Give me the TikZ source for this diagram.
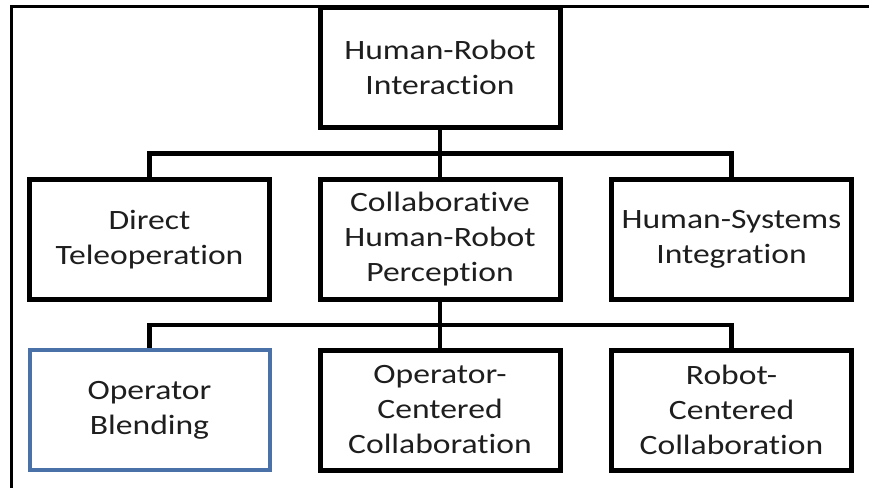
\documentclass[tikz,border=0pt]{standalone}
\usepackage{fontspec}
\setmainfont{Carlito}[FakeStretch=1.2, Ligatures={NoCommon,NoContextual}]
\usepackage{tikz}
\usetikzlibrary{calc}
\definecolor{boxblue}{RGB}{74,114,168}
\definecolor{textgray}{RGB}{30,30,30}

\begin{document}
\begin{tikzpicture}[x=1pt, y=-1pt,
		font=\fontsize{28}{35}\selectfont,
		box/.style={draw, line width=5pt, minimum width=240pt, minimum height=120pt, inner sep=0pt, align=center, text=textgray},
		blendbox/.style={box, draw=boxblue, line width=4pt},
		link/.style={line width=4.5pt},
		frame/.style={line width=3.5pt}]
			\useasboundingbox (0,0) rectangle (869,487);
			%Rahmen zeichnen
			\draw[frame] (11.5,490) |- (872,6.5);
			%Kaesten zeichnen
			\node[box] (hri) at (440,67.5) {Human-Robot\\Interaction};
			\node[box] (dt) at (149.5,239.5) {Direct\\Teleoperation};
			\node[box] (chrp) at (440,239.5) {Collaborative\\Human-Robot\\Perception};
			\node[box] (hsi) at (731.5,239.5) {Human-Systems\\Integration};
			\node[blendbox] (ob) at (149.5,410) {Operator\\Blending};
			\node[box] (occ) at (440,410) {Operator-\\Centered\\Collaboration};
			\node[box] (rcc) at (731.5,410) {Robot-\\Centered\\Collaboration};
			%Verbindungen zeichnen
			\coordinate (bus1) at ($(hri.south)!.5!(chrp.north)$);
			\coordinate (bus2) at ($(chrp.south)!.5!(occ.north)$);
			\draw[link] (hri.south) -- (chrp.north);
			\draw[link] (dt.north) |- (bus1) -| (hsi.north);
			\draw[link] (chrp.south) -- (occ.north);
			\draw[link] (ob.north) |- (bus2) -| (rcc.north);
		\end{tikzpicture}
\end{document}
